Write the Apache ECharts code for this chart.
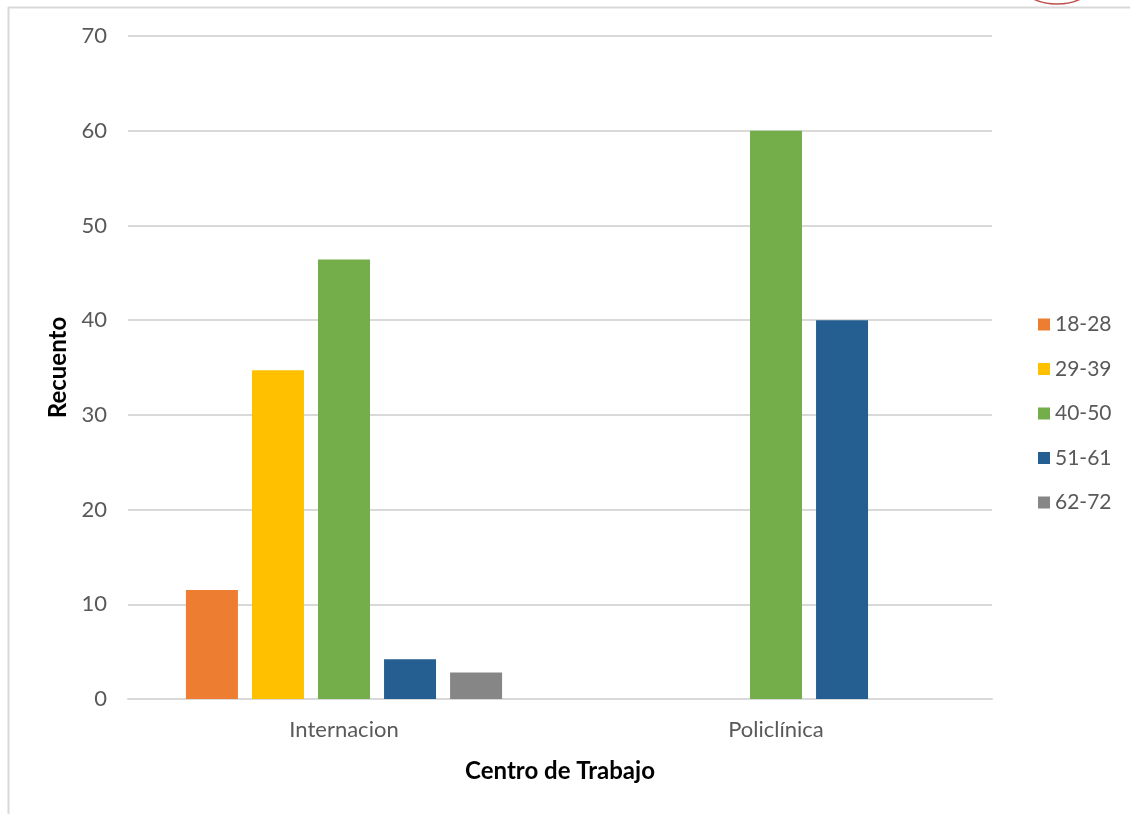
<!DOCTYPE html>
<html>
<head>
<meta charset="utf-8">
<script src="https://cdn.jsdelivr.net/npm/echarts@6/dist/echarts.min.js"></script>
<style>
html,body{margin:0;padding:0;background:#fff;}
#c{width:1130px;height:814px;}
</style>
</head>
<body>
<div id="c"></div>
<script>
const categories = ['Internacion', 'Policlínica'];
const seriesNames = ['18-28', '29-39', '40-50', '51-61', '62-72'];
const s1828 = [11.5, null];
const s2939 = [34.7, null];
const s4050 = [46.4, 60];
const s5161 = [4.2, 40];
const s6272 = [2.8, null];
const colors = ['#ed7d31', '#ffc000', '#74ae4b', '#255e91', '#868686'];
const yTicks = [0, 10, 20, 30, 40, 50, 60, 70];

const allData = [s1828, s2939, s4050, s5161, s6272];
const FONT = 'Lato, "Open Sans", sans-serif';

const chart = echarts.init(document.getElementById('c'));
chart.setOption({
  animation: false,
  textStyle: { fontFamily: FONT },
  graphic: [
    { type: 'line', shape: { x1: 8, y1: 7.5, x2: 1130, y2: 7.5 }, style: { stroke: '#d9d9d9', lineWidth: 2 } },
    { type: 'line', shape: { x1: 8.5, y1: 7, x2: 8.5, y2: 814 }, style: { stroke: '#d9d9d9', lineWidth: 2 } },
    { type: 'ellipse', shape: { cx: 1057, cy: -14, rx: 34, ry: 18 }, style: { fill: 'none', stroke: '#c0504d', lineWidth: 1.5 } }
  ],
  grid: { left: 128, right: 138, top: 36, bottom: 115, containLabel: false },
  legend: {
    orient: 'vertical',
    left: 1033,
    top: 309,
    icon: 'rect',
    itemWidth: 12,
    itemHeight: 12,
    itemGap: 23.5,
    data: seriesNames,
    textStyle: { fontSize: 21, color: '#595959', fontFamily: FONT, padding: [0, 0, 0, 0] }
  },
  xAxis: {
    type: 'category',
    data: categories,
    name: 'Centro de Trabajo',
    nameLocation: 'middle',
    nameGap: 60,
    nameTextStyle: { fontSize: 24, fontWeight: 'bold', color: '#000', fontFamily: FONT },
    axisLine: { lineStyle: { color: '#d9d9d9', width: 2 } },
    axisTick: { show: false },
    axisLabel: { fontSize: 22, color: '#595959', margin: 20, fontFamily: FONT },
  },
  yAxis: {
    type: 'value',
    min: 0,
    max: 70,
    interval: 10,
    name: 'Recuento',
    nameLocation: 'middle',
    nameGap: 56,
    nameTextStyle: { fontSize: 24, fontWeight: 'bold', color: '#000', fontFamily: FONT },
    axisLine: { show: false },
    axisTick: { show: false },
    axisLabel: { fontSize: 22, color: '#595959', margin: 21, fontFamily: FONT,
      formatter: v => yTicks.includes(v) ? String(v) : '' },
    splitLine: { lineStyle: { color: '#d9d9d9', width: 2 } }
  },
  series: seriesNames.map((n, i) => ({
    name: n,
    type: 'bar',
    data: allData[i],
    barWidth: 52,
    barGap: '27%',
    itemStyle: { color: colors[i] }
  }))
});
</script>
</body>
</html>
